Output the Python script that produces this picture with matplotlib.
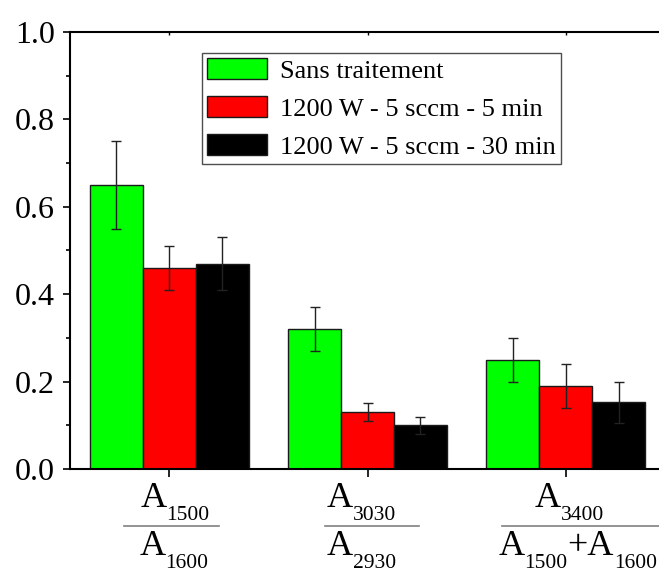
import numpy as np
import matplotlib
matplotlib.use("Agg")
import matplotlib.pyplot as plt
from matplotlib.ticker import FormatStrFormatter
from matplotlib.transforms import blended_transform_factory, offset_copy

plt.rcParams["font.family"] = ["Liberation Serif", "DejaVu Serif"]

series_labels = ["Sans traitement", "1200 W - 5 sccm - 5 min", "1200 W - 5 sccm - 30 min"]
series_colors = ["#00FF00", "#FF0000", "#000000"]
untreated = [0.65, 0.32, 0.25]
untreated_err = [0.10, 0.05, 0.05]
w5min = [0.46, 0.13, 0.19]
w5min_err = [0.05, 0.02, 0.05]
w30min = [0.47, 0.10, 0.153]
w30min_err = [0.06, 0.02, 0.047]
# ratio labels: (main, subscript) pieces
numerators = [[("A", "1500")], [("A", "3030")], [("A", "3400")]]
denominators = [[("A", "1600")], [("A", "2930")], [("A", "1500"), ("+A", "1600")]]

fig = plt.figure(figsize=(6.59, 5.69), dpi=100)
ax = fig.add_axes([70 / 659, 100 / 569, 595 / 659, 437 / 569])

x = np.arange(1, 4)
width = 0.267
values = [untreated, w5min, w30min]
errors = [untreated_err, w5min_err, w30min_err]
for i, (vals, errs) in enumerate(zip(values, errors)):
    ax.bar(x + (i - 1) * width, vals, width, color=series_colors[i],
           edgecolor="#1a1a1a", linewidth=1.0, label=series_labels[i], zorder=2)
    ax.errorbar(x + (i - 1) * width, vals, yerr=errs, fmt="none",
                ecolor="#222222", elinewidth=1.0, capsize=3.5, capthick=1.0, zorder=3)

ax.set_xlim(0.5, 3.5)
ax.set_ylim(0, 1.0)
ax.set_yticks(np.arange(0, 1.01, 0.2))
ax.set_yticks(np.arange(0.1, 1.0, 0.2), minor=True)
ax.yaxis.set_major_formatter(FormatStrFormatter("%.1f"))
ax.set_xticks(x)
ax.set_xticklabels([])
ax.tick_params(axis="y", which="major", direction="out", length=5, width=1.2,
               labelsize=23, pad=6)
ax.tick_params(axis="y", which="minor", direction="out", length=3, width=1.2)
ax.tick_params(axis="x", which="major", direction="out", length=6, width=1.2)
for side in ["left", "bottom", "top"]:
    ax.spines[side].set_linewidth(1.5)
ax.spines["right"].set_visible(False)
top = ax.secondary_xaxis("top")
top.set_xticks(x)
top.set_xticklabels([])
top.tick_params(direction="in", length=2, width=1.0)
top.spines["top"].set_visible(False)

# two-level ratio labels under each group
trans = blended_transform_factory(ax.transData, ax.transAxes)
renderer = fig.canvas.get_renderer()


def draw_label(x0, y0, pieces):
    x_off = 0.0
    for main, sub in pieces:
        t = ax.text(x0, y0, main, fontsize=26, ha="left", va="baseline", clip_on=False,
                    transform=offset_copy(trans, fig=fig, x=x_off, y=0, units="dots"))
        x_off += t.get_window_extent(renderer).width
        t = ax.text(x0, y0, sub, fontsize=15.5, ha="left", va="baseline", clip_on=False,
                    transform=offset_copy(trans, fig=fig, x=x_off, y=-13, units="dots"))
        x_off += t.get_window_extent(renderer).width


num_left = [0.855, 1.796, 2.844]
den_left = [0.849, 1.796, 2.66]
line_spans = [(0.773, 1.252), (1.786, 2.259), (2.678, 3.5)]
for i in range(3):
    draw_label(num_left[i], -0.087, numerators[i])
    draw_label(den_left[i], -0.196, denominators[i])
    ax.plot(line_spans[i], [-0.130, -0.130], transform=trans, color="#808080",
            linewidth=1.2, clip_on=False)

leg = ax.legend(loc="upper left", bbox_to_anchor=(202 / 659, 1 - 53 / 569),
                bbox_transform=fig.transFigure, fontsize=19, frameon=True,
                fancybox=False, handlelength=2.27, handleheight=0.85,
                handletextpad=0.5, labelspacing=0.5, borderpad=0.2,
                borderaxespad=0)
leg.get_frame().set_edgecolor("#222222")
leg.get_frame().set_linewidth(1.0)

fig.savefig("out.png", dpi=100)
